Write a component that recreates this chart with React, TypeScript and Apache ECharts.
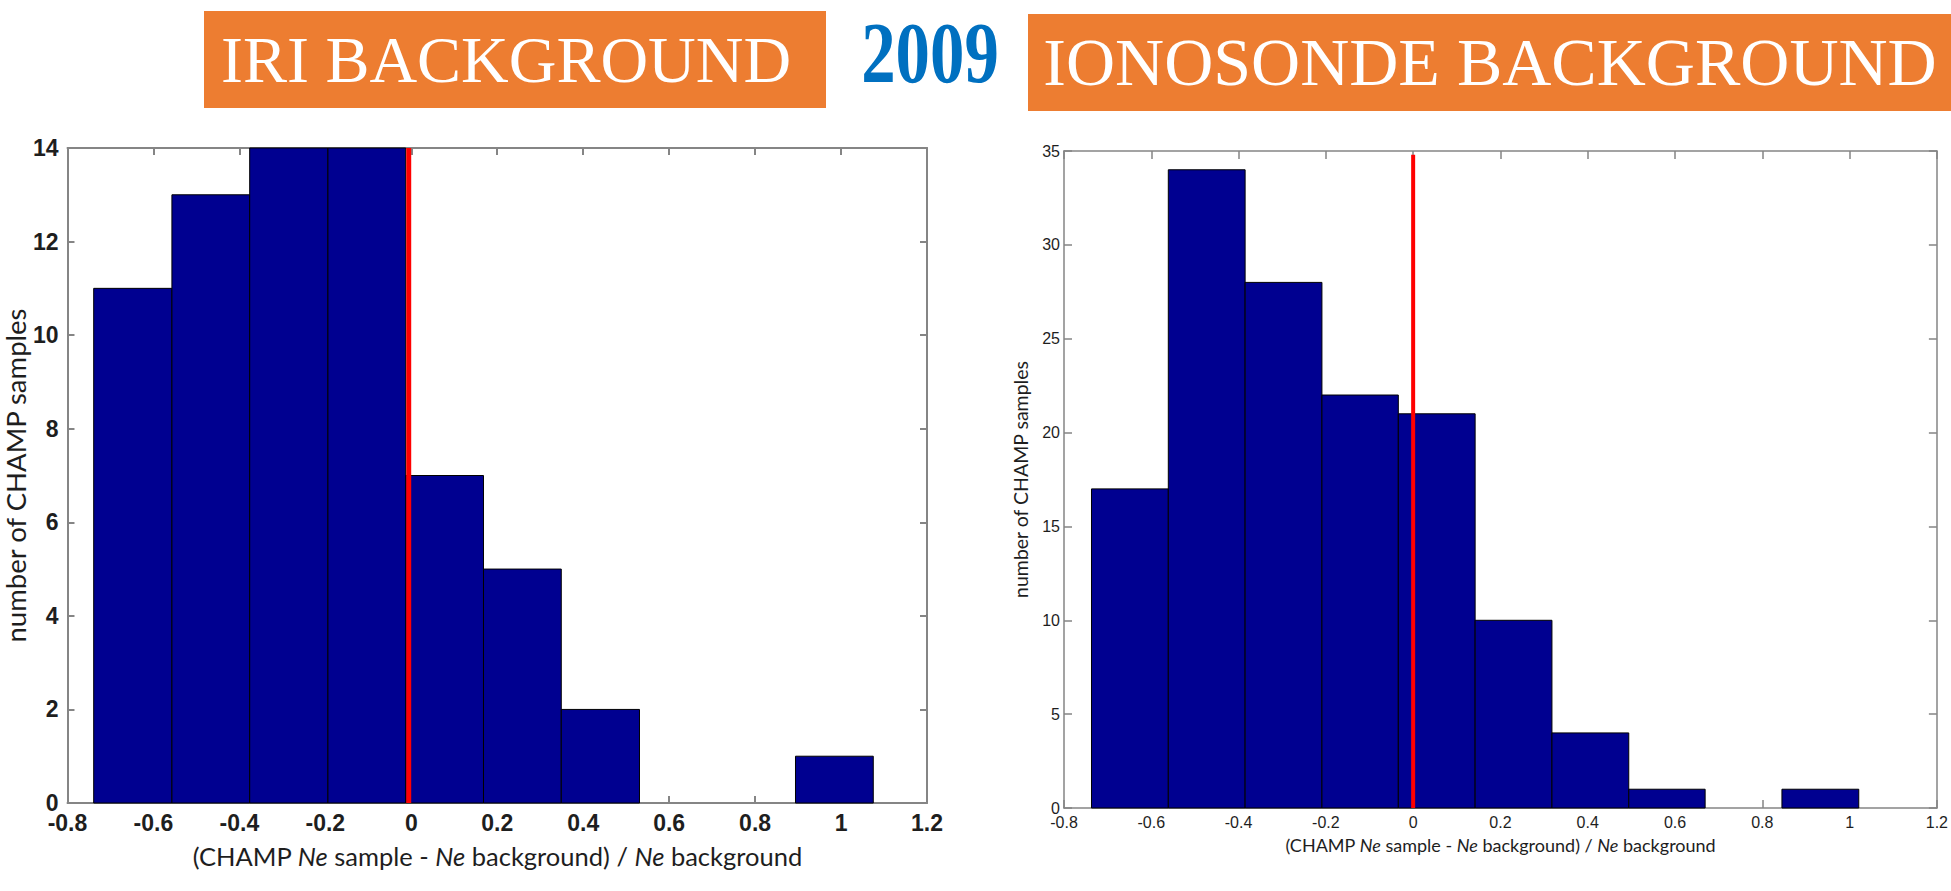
import React, { useEffect, useRef } from "react";
import * as echarts from "echarts";

// ---- data ----
const bannerTitles = ["IRI BACKGROUND", "2009", "IONOSONDE BACKGROUND"];
const yAxisTitle = "number of CHAMP samples";
const xAxisTitle = "(CHAMP {i|Ne} sample - {i|Ne} background) / {i|Ne} background";

const iriEdges = [-0.739, -0.557, -0.376, -0.194, -0.013, 0.168, 0.349, 0.531, 0.712, 0.894, 1.075];
const iriCounts = [11, 13, 14, 14, 7, 5, 2, 0, 0, 1];
const iriRedLine = [[-0.006, 0], [-0.006, 14]];

const ionoEdges = [-0.737, -0.561, -0.385, -0.209, -0.034, 0.142, 0.318, 0.494, 0.669, 0.845, 1.021];
const ionoCounts = [17, 34, 28, 22, 21, 10, 4, 1, 0, 1];
const ionoRedLine = [[0, 0], [0, 34.8]];

const xRange = [-0.8, 1.2];
const xStep = 0.2;
const iriYRange = [0, 14];
const iriYStep = 2;
const ionoYRange = [0, 35];
const ionoYStep = 5;

// ---- styling ----
const BAR_FILL = "#000090";
const AXIS_GRAY = "#858585";
const TEXT = "#1e1e1e";
const ORANGE = "#ED7D31";
const TITLE_FONT = "Lato, 'Open Sans', sans-serif";
const TICK_FONT = "'Liberation Sans', Arial, sans-serif";

function bins(edges: number[], counts: number[]) {
  return counts.map((c, i) => [edges[i], edges[i + 1], c]);
}

function renderBar(params: any, api: any) {
  const x0 = api.value(0);
  const x1 = api.value(1);
  const c = api.value(2);
  if (!c) return null;
  const p0 = api.coord([x0, c]);
  const p1 = api.coord([x1, 0]);
  return {
    type: "rect",
    shape: { x: p0[0], y: p0[1], width: p1[0] - p0[0], height: p1[1] - p0[1] },
    style: { fill: BAR_FILL, stroke: "#000", lineWidth: 1 },
  };
}

function xAxisDef(gridIndex: number, position: string, cfg: any) {
  const main = position === "bottom";
  return {
    type: "value",
    gridIndex,
    position,
    min: xRange[0],
    max: xRange[1],
    interval: xStep,
    splitLine: { show: false },
    axisLine: { onZero: false, lineStyle: { color: AXIS_GRAY, width: cfg.lw } },
    axisTick: { inside: true, length: cfg.tick, lineStyle: { color: AXIS_GRAY, width: cfg.lw } },
    axisLabel: {
      show: main,
      margin: cfg.margin,
      fontSize: cfg.fs,
      fontWeight: cfg.fw,
      fontFamily: TICK_FONT,
      color: TEXT,
      showMinLabel: true,
      showMaxLabel: true,
    },
    name: main ? xAxisTitle : "",
    nameLocation: "middle",
    nameGap: cfg.nameGap,
    nameTextStyle: {
      fontFamily: TITLE_FONT,
      fontSize: cfg.nameFs,
      color: TEXT,
      rich: { i: { fontFamily: TITLE_FONT, fontSize: cfg.nameFs, fontStyle: "italic", color: TEXT } },
    },
  };
}

function yAxisDef(gridIndex: number, position: string, range: number[], step: number, cfg: any) {
  const main = position === "left";
  return {
    type: "value",
    gridIndex,
    position,
    min: range[0],
    max: range[1],
    interval: step,
    splitLine: { show: false },
    axisLine: { onZero: false, lineStyle: { color: AXIS_GRAY, width: cfg.lw } },
    axisTick: { inside: true, length: cfg.tick, lineStyle: { color: AXIS_GRAY, width: cfg.lw } },
    axisLabel: {
      show: main,
      margin: cfg.ymargin,
      fontSize: cfg.fs,
      fontWeight: cfg.fw,
      fontFamily: TICK_FONT,
      color: TEXT,
    },
    name: main ? yAxisTitle : "",
    nameLocation: "middle",
    nameGap: cfg.yNameGap,
    nameTextStyle: { fontFamily: TITLE_FONT, fontSize: cfg.yNameFs, lineHeight: cfg.yNameFs, color: TEXT },
  };
}

const leftCfg = { lw: 2, tick: 7, margin: 8, ymargin: 9, fs: 23, fw: "bold", nameGap: 40, nameFs: 25.5, yNameGap: 31, yNameFs: 27.5 };
const rightCfg = { lw: 1.5, tick: 8, margin: 6, ymargin: 4, fs: 16, fw: "normal", nameGap: 28, nameFs: 18, yNameGap: 34, yNameFs: 19.5 };

export default function App() {
  const ref = useRef<HTMLDivElement>(null);
  useEffect(() => {
    if (!ref.current) return;
    const chart = echarts.init(ref.current, undefined, { renderer: "svg" });
    const option: any = {
      animation: false,
      backgroundColor: "#ffffff",
      grid: [
        { left: 66, top: 148, width: 861, height: 655 },
        { left: 1064, top: 151, width: 875, height: 657 },
      ],
      xAxis: [
        xAxisDef(0, "bottom", leftCfg),
        xAxisDef(0, "top", leftCfg),
        xAxisDef(1, "bottom", rightCfg),
        xAxisDef(1, "top", rightCfg),
      ],
      yAxis: [
        yAxisDef(0, "left", iriYRange, iriYStep, leftCfg),
        yAxisDef(0, "right", iriYRange, iriYStep, leftCfg),
        yAxisDef(1, "left", ionoYRange, ionoYStep, rightCfg),
        yAxisDef(1, "right", ionoYRange, ionoYStep, rightCfg),
      ],
      series: [
        {
          type: "custom",
          xAxisIndex: 0,
          yAxisIndex: 0,
          renderItem: renderBar,
          encode: { x: [0, 1], y: 2 },
          data: bins(iriEdges, iriCounts),
          z: 2,
        },
        {
          type: "line",
          xAxisIndex: 0,
          yAxisIndex: 0,
          data: iriRedLine,
          symbol: "none",
          lineStyle: { color: "#ff0000", width: 5 },
          z: 5,
          silent: true,
        },
        {
          type: "custom",
          xAxisIndex: 2,
          yAxisIndex: 2,
          renderItem: renderBar,
          encode: { x: [0, 1], y: 2 },
          data: bins(ionoEdges, ionoCounts),
          z: 2,
        },
        {
          type: "line",
          xAxisIndex: 2,
          yAxisIndex: 2,
          data: ionoRedLine,
          symbol: "none",
          lineStyle: { color: "#ff0000", width: 4 },
          z: 5,
          silent: true,
        },
      ],
      graphic: [
        { type: "rect", left: 204, top: 11, shape: { width: 622, height: 97 }, style: { fill: ORANGE } },
        {
          type: "text",
          x: 506,
          y: 59,
          style: {
            text: bannerTitles[0],
            font: "66px 'Liberation Serif', serif",
            fill: "#ffffff",
            textAlign: "center",
            textVerticalAlign: "middle",
          },
        },
        {
          type: "text",
          x: 930,
          y: 53,
          scaleX: 0.8,
          style: {
            text: bannerTitles[1],
            font: "bold 86px 'Liberation Serif', serif",
            fill: "#0070C0",
            textAlign: "center",
            textVerticalAlign: "middle",
          },
        },
        { type: "rect", left: 1028, top: 14, shape: { width: 923, height: 97 }, style: { fill: ORANGE } },
        {
          type: "text",
          x: 1490,
          y: 62,
          style: {
            text: bannerTitles[2],
            font: "68px 'Liberation Serif', serif",
            fill: "#ffffff",
            textAlign: "center",
            textVerticalAlign: "middle",
          },
        },
      ],
    };
    chart.setOption(option);
    return () => chart.dispose();
  }, []);
  return (
    <div
      ref={ref}
      style={{ position: "absolute", left: 0, top: 0, width: 1951, height: 891, background: "#fff" }}
    />
  );
}
